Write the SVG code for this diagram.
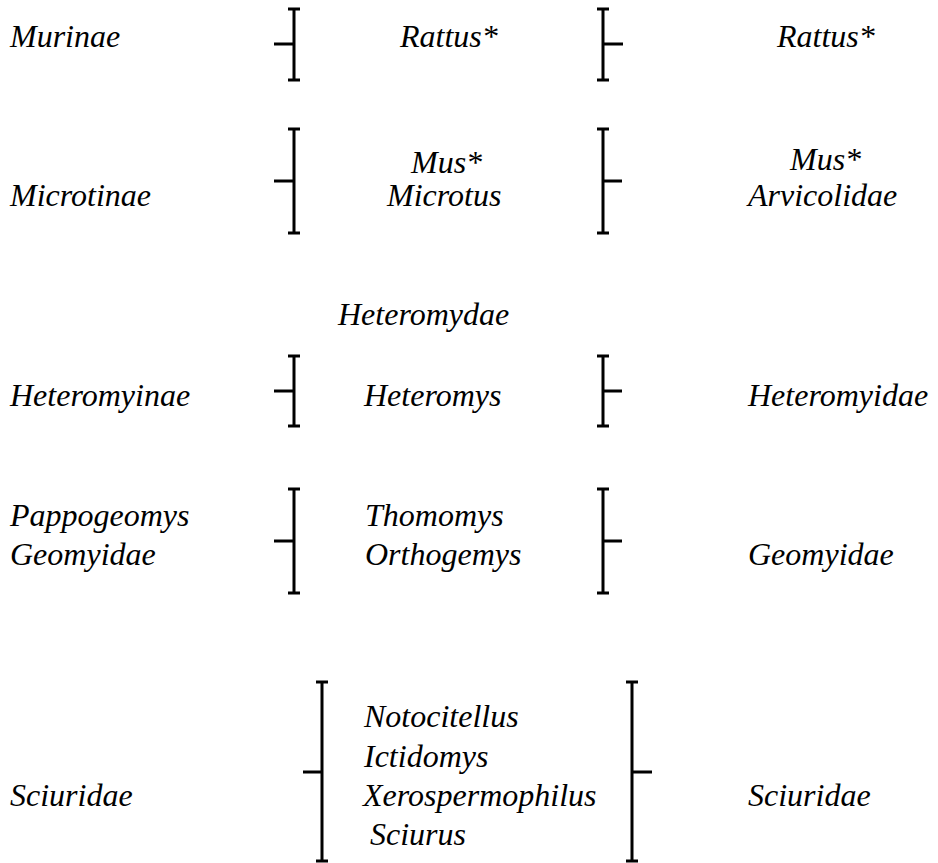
<svg xmlns="http://www.w3.org/2000/svg" width="938" height="863" viewBox="0 0 938 863">
<style>
text{font-family:"Liberation Serif","Times New Roman",serif;font-style:italic;font-size:32px;fill:#000}
.br{fill:none;stroke:#000;stroke-width:3}
</style>
<rect width="938" height="863" fill="#fff"/>
<g id="connectors">
<path class="br" d="M288 9H300M294 9V80M288 80H300M274 44H294"/>
<path class="br" d="M597 9H609M603 9V80M597 80H609M603 44H623"/>
<path class="br" d="M288 129H300M294 129V233M288 233H300M274 181H294"/>
<path class="br" d="M597 129H609M603 129V233M597 233H609M603 181H622"/>
<path class="br" d="M288 356H300M294 356V426M288 426H300M274 391H294"/>
<path class="br" d="M597 356H609M603 356V426M597 426H609M603 391H622"/>
<path class="br" d="M288 489H300M294 489V593M288 593H300M274 541H294"/>
<path class="br" d="M597 489H609M603 489V593M597 593H609M603 541H622"/>
<path class="br" d="M316 682H328M322 682V861M316 861H328M303 772H322"/>
<path class="br" d="M626 682H638M632 682V861M626 861H638M632 772H652"/>
</g>
<g id="murinae"><text x="10" y="47">Murinae</text></g>
<g id="rattus-mid"><text x="400" y="47">Rattus*</text></g>
<g id="rattus-right"><text x="777" y="47">Rattus*</text></g>
<g id="microtinae"><text x="10" y="206">Microtinae</text></g>
<g id="mus-microtus"><text x="411" y="173">Mus*</text><text x="387" y="206">Microtus</text></g>
<g id="mus-arvicolidae"><text x="790" y="170">Mus*</text><text x="748" y="206">Arvicolidae</text></g>
<g id="heteromydae"><text x="338" y="325">Heteromydae</text></g>
<g id="heteromyinae"><text x="10" y="406">Heteromyinae</text></g>
<g id="heteromys"><text x="364" y="406">Heteromys</text></g>
<g id="heteromyidae"><text x="748" y="406">Heteromyidae</text></g>
<g id="pappogeomys-geomyidae"><text x="10" y="526">Pappogeomys</text><text x="10" y="565">Geomyidae</text></g>
<g id="thomomys-orthogemys"><text x="365" y="526">Thomomys</text><text x="365" y="565">Orthogemys</text></g>
<g id="geomyidae-right"><text x="748" y="565">Geomyidae</text></g>
<g id="sciuridae-left"><text x="10" y="806">Sciuridae</text></g>
<g id="sciurid-genera"><text x="364" y="727">Notocitellus</text><text x="364" y="767">Ictidomys</text><text x="363" y="806">Xerospermophilus</text><text x="370" y="845">Sciurus</text></g>
<g id="sciuridae-right"><text x="748" y="806">Sciuridae</text></g>
</svg>
